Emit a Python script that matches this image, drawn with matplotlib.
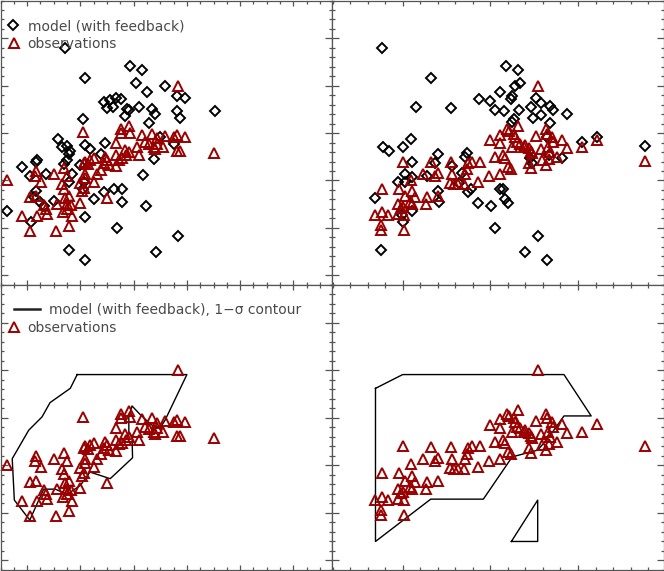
import matplotlib
matplotlib.use('Agg')
import matplotlib.pyplot as plt
from matplotlib.lines import Line2D
from matplotlib.ticker import MultipleLocator

# ---------------- data ----------------
# observations, left-hand x variable
obs_left_x = [2.83,1.05,3.51,-0.38,1.76,1.92,1.76,1.94,1.66,2.16,2.34,2.44,2.59,2.76,2.81,2.96,2.22,2.28,2.38,2.44,
              2.56,2.41,2.81,2.88,2.06,2.11,1.84,1.91,1.86,1.78,1.73,1.66,1.66,1.47,1.50,1.44,1.53,1.25,1.19,1.09,
              1.06,1.14,1.38,1.31,1.25,1.09,1.09,1.00,1.06,1.03,0.69,0.75,0.66,0.69,0.51,0.16,0.14,0.26,0.78,0.72,
              1.50,0.06,0.16,1.00,0.83,0.75,0.68,0.56,0.75,0.31,0.36,0.38,0.84,-0.09,0.18,0.06,0.54,0.78]
obs_left_y = [4.00,3.02,2.57,2.00,3.09,3.15,3.00,3.01,2.79,2.97,2.99,2.90,2.94,2.92,2.95,2.92,2.81,2.76,2.71,2.78,
              2.71,2.67,2.62,2.62,2.71,2.53,2.65,2.60,2.53,2.48,2.44,2.53,2.30,2.50,2.43,2.37,2.32,2.48,2.43,2.40,
              2.36,2.34,2.23,2.14,1.97,2.14,2.05,1.95,1.85,1.78,2.26,2.09,1.93,1.81,2.14,2.20,2.09,1.97,1.67,1.64,
              1.64,1.65,1.67,1.53,1.48,1.50,1.34,1.51,1.39,1.48,1.39,1.30,1.25,1.25,1.25,0.94,0.94,1.04]

# model (with feedback), left-hand x variable
mod_left_x = [0.71,1.09,1.93,2.16,2.05,2.59,2.26,2.81,2.96,1.44,1.56,1.66,1.76,1.50,1.61,1.88,1.91,2.11,2.34,2.41,
              1.84,2.81,2.88,3.52,1.05,2.28,0.58,1.47,1.09,1.19,0.66,0.75,0.81,0.78,0.75,0.69,1.38,2.49,2.76,2.39,
              -0.09,0.16,0.19,1.00,0.36,0.05,0.84,0.78,1.06,2.17,1.05,0.16,0.13,0.25,0.31,0.50,1.45,1.63,1.78,1.78,
              1.25,-0.38,2.23,0.08,1.09,1.68,2.83,0.78,2.42,1.08]
mod_left_y = [4.80,4.17,4.41,4.34,4.05,4.00,3.86,3.78,3.74,3.65,3.70,3.74,3.72,3.53,3.55,3.51,3.48,3.56,3.51,3.41,
              3.37,3.46,3.32,3.46,3.30,3.21,2.87,2.79,2.74,2.67,2.71,2.73,2.62,2.55,2.44,2.34,2.55,2.92,2.76,2.46,
              2.28,2.39,2.43,2.32,2.14,2.09,2.13,1.97,1.97,2.11,1.81,1.78,1.65,1.55,1.46,1.56,1.76,1.81,1.81,1.55,
              1.60,1.36,1.46,1.13,1.22,0.99,0.83,0.53,0.48,0.33]

# model (with feedback), right-hand x variable
mod_right_x = [-0.24,0.32,0.15,0.55,1.18,1.32,1.28,1.34,1.11,1.25,1.24,0.87,1.00,1.05,1.16,1.33,1.52,1.58,1.46,1.49,
               1.58,1.68,1.71,1.87,1.27,1.25,1.68,0.10,0.00,-0.22,-0.16,0.40,0.11,0.37,0.73,0.71,0.56,0.28,0.03,-0.05,
               0.03,0.11,-0.31,0.40,0.41,0.75,0.78,0.86,1.01,1.11,1.14,1.17,1.20,0.11,-0.01,0.00,1.45,1.47,1.65,1.67,
               1.82,2.05,2.22,2.76,1.05,1.54,-0.25,1.39,1.65,0.68,0.64]
mod_right_y = [4.80,4.17,3.55,3.53,4.41,4.34,4.00,4.05,3.86,3.78,3.72,3.72,3.67,3.49,3.46,3.48,3.74,3.63,3.55,3.32,
               3.39,3.57,3.49,3.41,3.30,3.23,3.22,2.87,2.71,2.71,2.62,2.55,2.39,2.37,2.57,2.50,2.31,2.09,2.13,1.97,
               1.97,2.07,1.62,1.78,1.55,1.76,1.81,1.53,1.46,1.83,1.81,1.60,1.53,1.36,1.27,1.13,2.47,2.36,2.92,2.53,
               2.47,2.81,2.92,2.73,0.99,0.83,0.53,0.48,0.33,2.15,1.95]

# observations, right-hand x variable
obs_right_x = [1.54,0.00,0.32,0.55,-0.24,-0.31,-0.24,-0.17,-0.25,-0.25,0.01,-0.04,0.11,0.10,0.03,0.14,-0.05,-0.02,0.01,-0.05,
               0.00,0.11,0.08,0.23,0.37,0.40,0.28,0.27,0.40,0.56,0.54,0.58,0.63,0.70,0.71,0.73,0.75,0.79,0.88,0.86,
               1.00,1.11,1.11,1.19,1.21,1.27,1.32,1.28,1.30,1.25,1.20,1.23,1.05,1.15,1.17,1.11,0.99,1.40,1.44,1.46,
               1.48,1.44,1.46,1.52,1.63,1.65,1.70,1.82,1.87,1.58,1.66,1.68,1.67,1.64,1.59,1.76,1.72,2.05,2.22,2.76,
               1.34,1.38]
obs_right_y = [4.00,2.40,2.39,2.38,1.83,1.27,1.34,1.28,1.07,0.95,0.95,1.83,1.78,2.02,1.67,1.65,1.50,1.41,1.27,1.30,
               1.44,1.50,1.55,2.14,2.10,2.16,1.65,1.50,1.67,2.14,1.95,1.93,1.92,1.93,2.14,2.25,2.36,2.40,2.40,1.97,
               2.85,2.79,2.97,3.09,3.04,2.99,3.16,2.92,2.81,2.71,2.28,2.25,2.50,2.53,2.48,2.14,2.10,2.74,2.69,2.62,
               2.57,2.37,2.26,2.93,3.08,2.99,2.92,2.86,2.69,2.66,2.71,2.60,2.46,2.33,2.43,2.50,2.81,2.71,2.86,2.41,
               2.78,2.71]

# model 1-sigma contours
cont_left_x = [0.94,3.00,2.59,2.50,2.34,2.13,1.97,1.91,1.91,1.97,1.98,1.56,1.18,1.00,0.75,0.53,0.31,0.05,-0.24,-0.28,
               0.03,0.28,0.43,0.81,0.94]
cont_left_y = [3.91,3.91,2.95,2.79,2.85,3.06,3.25,3.02,2.71,2.60,2.16,1.72,1.86,1.58,1.39,1.50,1.50,0.85,1.27,2.14,
               2.74,3.02,3.32,3.62,3.91]
cont_right_x = [-0.31,0.00,1.84,2.15,1.84,1.67,1.54,1.25,0.92,0.32,-0.31,-0.31]
cont_right_y = [3.62,3.91,3.91,3.04,3.04,2.60,2.32,2.18,1.29,1.29,0.40,3.62]
cont_right2_x = [1.24,1.54,1.54,1.24]
cont_right2_y = [0.40,0.40,1.27,0.40]

label_model = "model (with feedback)"
label_contour = "model (with feedback), 1\u2212\u03c3 contour"
label_obs = "observations"

# ---------------- style ----------------
OBS_COLOR = '#990000'
AX_COLOR = '#555555'
TXT_COLOR = '#4a4a4a'
FS = 10

W, H = 664, 571
fig = plt.figure(figsize=(W / 100, H / 100), dpi=100)


def add(x0, x1, ytop, ybot):
    return fig.add_axes([x0 / W, (H - ybot) / H, (x1 - x0) / W, (ybot - ytop) / H])


ax_tl = add(0.5, 332, 0.5, 284.7)
ax_tr = add(332, 663.5, 0.5, 284.7)
ax_bl = add(0.5, 332, 284.7, 570)
ax_br = add(332, 663.5, 284.7, 570)

for ax, left in [(ax_tl, True), (ax_bl, True), (ax_tr, False), (ax_br, False)]:
    if left:
        ax.set_xlim(-0.5, 5.725)
        ax.xaxis.set_major_locator(MultipleLocator(1.0))
        ax.xaxis.set_minor_locator(MultipleLocator(0.25))
    else:
        ax.set_xlim(-0.806, 2.975)
        ax.xaxis.set_major_locator(MultipleLocator(1.0))
        ax.xaxis.set_minor_locator(MultipleLocator(0.2))
    ax.set_ylim(-0.2, 5.8)
    ax.yaxis.set_major_locator(MultipleLocator(1.0))
    ax.yaxis.set_minor_locator(MultipleLocator(0.2))
    ax.tick_params(which='both', direction='in', top=True, right=True,
                   labelbottom=False, labelleft=False, color=AX_COLOR, width=0.9)
    ax.xaxis.set_tick_params(which='major', length=3.7)
    ax.xaxis.set_tick_params(which='minor', length=2.4)
    ax.yaxis.set_tick_params(which='major', length=4.7)
    ax.yaxis.set_tick_params(which='minor', length=2.4)
    for s in ax.spines.values():
        s.set_color(AX_COLOR)
        s.set_linewidth(0.9)

dkw = dict(ls='none', marker='D', ms=5.3, mfc='none', mec='black', mew=1.4, clip_on=False)
tkw = dict(ls='none', marker='^', ms=7.2, mfc='none', mec=OBS_COLOR, mew=1.4, clip_on=False)

ax_tl.plot(mod_left_x, mod_left_y, **dkw)
ax_tl.plot(obs_left_x, obs_left_y, **tkw)
ax_tr.plot(mod_right_x, mod_right_y, **dkw)
ax_tr.plot(obs_right_x, obs_right_y, **tkw)

ax_bl.plot(cont_left_x, cont_left_y, color='black', lw=1.0)
ax_bl.plot(obs_left_x, obs_left_y, **tkw)
ax_br.plot(cont_right_x, cont_right_y, color='black', lw=1.0)
ax_br.plot(cont_right2_x, cont_right2_y, color='black', lw=1.0)
ax_br.plot(obs_right_x, obs_right_y, **tkw)

# ---------------- legends ----------------
h_mod = Line2D([], [], **{k: v for k, v in dkw.items() if k != 'clip_on'})
h_obs = Line2D([], [], **{k: v for k, v in tkw.items() if k != 'clip_on'})
h_cont = Line2D([], [], color='#222222', lw=1.8)

axw, axh = 331.5, 284.2
common = dict(loc='upper left', frameon=False, fontsize=FS, borderpad=0, borderaxespad=0,
              labelcolor=TXT_COLOR, handleheight=0.7)

leg1 = ax_tl.legend([h_mod], [label_model], bbox_to_anchor=(5.75 / axw, 1 - 18.5 / axh),
                    handlelength=1.0, handletextpad=0.53, **common)
ax_tl.add_artist(leg1)
ax_tl.legend([h_obs], [label_obs], bbox_to_anchor=(6.35 / axw, 1 - 36 / axh),
             handlelength=1.0, handletextpad=0.48, **common)

leg3 = ax_bl.legend([h_cont], [label_contour], bbox_to_anchor=(13 / axw, 1 - 18.5 / axh),
                    handlelength=1.94, handletextpad=0.6, **common)
ax_bl.add_artist(leg3)
ax_bl.legend([h_obs], [label_obs], bbox_to_anchor=(6.35 / axw, 1 - 36 / axh),
             handlelength=1.0, handletextpad=0.48, **common)

fig.savefig('out.png', dpi=100)
